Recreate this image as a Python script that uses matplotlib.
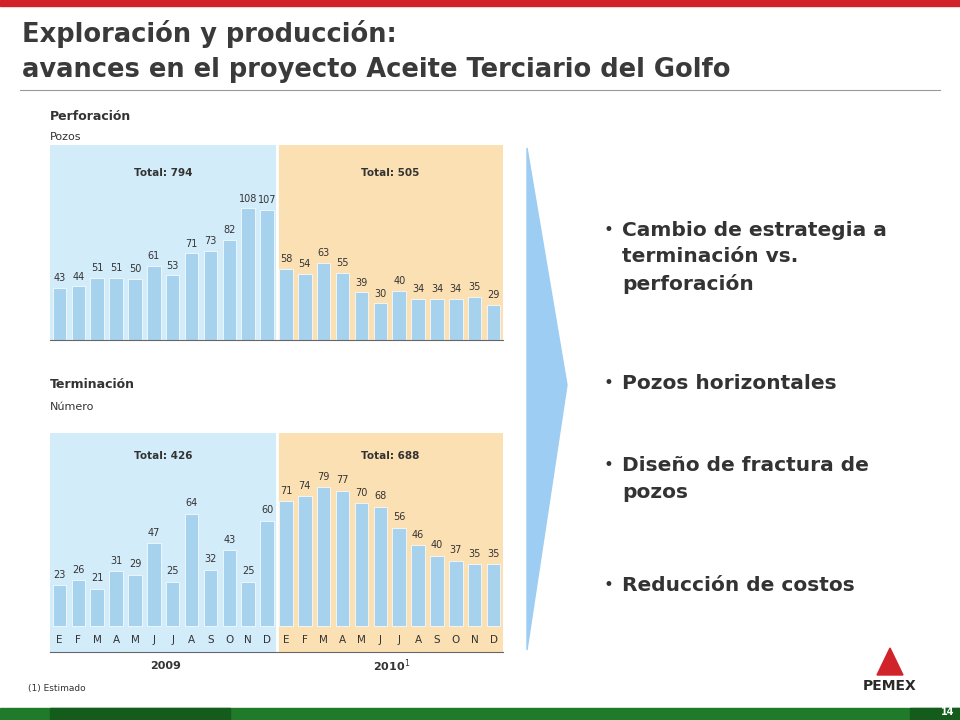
import matplotlib
matplotlib.use("Agg")
import matplotlib.pyplot as plt
from matplotlib.patches import Polygon, Rectangle

months = ["E","F","M","A","M","J","J","A","S","O","N","D"]*2
perf = [43,44,51,51,50,61,53,71,73,82,108,107,58,54,63,55,39,30,40,34,34,34,35,29]
term = [23,26,21,31,29,47,25,64,32,43,25,60,71,74,79,77,70,68,56,46,40,37,35,35]
totals_perf = ["Total: 794","Total: 505"]
totals_term = ["Total: 426","Total: 688"]
bullets = ["Cambio de estrategia a\nterminación vs.\nperforación","Pozos horizontales",
           "Diseño de fractura de\npozos","Reducción de costos"]

plt.rcParams["font.family"] = "DejaVu Sans"
W,H = 960,720
fig = plt.figure(figsize=(9.6,7.2), dpi=100)
def fx(x): return x/W
def fy(y): return 1-y/H

fig.patches.append(Rectangle((0,fy(6)),1,6/H,transform=fig.transFigure,color="#d0242a"))
fig.text(fx(22),fy(34),"Exploración y producción:",fontsize=18.5,fontweight="bold",color="#3a3a3a",va="center")
fig.text(fx(22),fy(70),"avances en el proyecto Aceite Terciario del Golfo",fontsize=18.5,fontweight="bold",color="#3a3a3a",va="center")
fig.add_artist(plt.Line2D([fx(20),fx(940)],[fy(90),fy(90)],color="#999999",lw=0.8))
fig.patches.append(Rectangle((0,0),1,12/H,transform=fig.transFigure,color="#1f7a2a"))
fig.patches.append(Rectangle((fx(50),0),fx(180),12/H,transform=fig.transFigure,color="#145c1c"))
fig.patches.append(Rectangle((fx(910),0),fx(50),12/H,transform=fig.transFigure,color="#145c1c"))
fig.text(fx(948),fy(712),"14",fontsize=7,color="white",fontweight="bold",ha="center",va="center")

bg1,bg2,barc = "#d3ecfa","#fbe0b4","#a6d2ee"
def panel(y0,y1,vals,ylo,yhi,tots,toty,months_on):
    ax = fig.add_axes([fx(50),fy(y1),fx(453),(y1-y0)/H])
    ax.axvspan(-0.5,11.5,color=bg1,lw=0)
    ax.axvspan(11.5,23.5,color=bg2,lw=0)
    ax.axvline(11.5,color="white",lw=2)
    x = range(len(vals))
    ax.bar(x,vals,width=0.72,color=barc,edgecolor="white",lw=0.5)
    for i,v in enumerate(vals):
        ax.text(i,v+(yhi-ylo)*0.025,str(v),ha="center",va="bottom",fontsize=7,color="#333333")
    ax.text(5.5,toty,tots[0],ha="center",va="center",fontsize=7.5,fontweight="bold",color="#333333")
    ax.text(17.5,toty,tots[1],ha="center",va="center",fontsize=7.5,fontweight="bold",color="#333333")
    if months_on:
        for i,m in enumerate(months):
            ax.text(i,ylo*0.55,m,ha="center",va="center",fontsize=7.5,color="#333333")
    ax.set_xlim(-0.5,23.5); ax.set_ylim(ylo,yhi)
    ax.axis("off")
    return ax

fig.text(fx(50),fy(116),"Perforación",fontsize=9,fontweight="bold",color="#333333",va="center")
fig.text(fx(50),fy(137),"Pozos",fontsize=8,color="#333333",va="center")
panel(145,340,perf,0,160,totals_perf,137,False)
fig.add_artist(plt.Line2D([fx(50),fx(503)],[fy(340),fy(340)],color="#666666",lw=0.8))

fig.text(fx(50),fy(384),"Terminación",fontsize=9,fontweight="bold",color="#333333",va="center")
fig.text(fx(50),fy(407),"Número",fontsize=8,color="#333333",va="center")
panel(433,652,term,-15,110,totals_term,97,True)
fig.add_artist(plt.Line2D([fx(50),fx(503)],[fy(652),fy(652)],color="#666666",lw=0.8))
fig.text(fx(166),fy(666),"2009",fontsize=8,fontweight="bold",color="#333333",ha="center",va="center")
fig.text(fx(392),fy(666),"2010$^{1}$",fontsize=8,fontweight="bold",color="#333333",ha="center",va="center")
fig.text(fx(28),fy(689),"(1) Estimado",fontsize=6.5,color="#333333",va="center")

fig.patches.append(Polygon([(fx(527),fy(148)),(fx(567),fy(385)),(fx(527),fy(650))],
                   closed=True,transform=fig.transFigure,color="#9dcdf2"))

ys = [221,374,456,576]
for b,y in zip(bullets,ys):
    fig.text(fx(604),fy(y),"•",fontsize=12,color="#333333",va="top")
    fig.text(fx(622),fy(y),b,fontsize=14.5,fontweight="bold",color="#333333",va="top",linespacing=1.5)

fig.text(fx(890),fy(686),"PEMEX",fontsize=10,fontweight="bold",color="#2a2a2a",ha="center",va="center")
fig.patches.append(Polygon([(fx(877),fy(675)),(fx(890),fy(648)),(fx(903),fy(675))],closed=True,
                   transform=fig.transFigure,color="#d0242a"))
fig.savefig("out.png",dpi=100)
